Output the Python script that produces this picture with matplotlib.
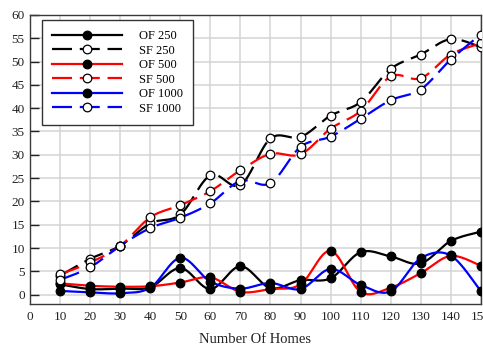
import numpy as np
import matplotlib
matplotlib.use("Agg")
import matplotlib.pyplot as plt
from matplotlib.lines import Line2D

homes = [10, 20, 30, 40, 50, 60, 70, 80, 90, 100, 110, 120, 130, 140, 150]

of_250 = [2.2, 1.2, 1.3, 1.6, 5.7, 1.2, 6.1, 1.4, 3.1, 3.5, 9.1, 8.2, 6.7, 11.5, 13.5]
sf_250 = [4.1, 7.7, 10.5, 15.3, 17.2, 25.6, 23.5, 33.5, 33.8, 38.4, 41.3, 48.4, 51.5, 54.8, 53.1]
of_500 = [2.4, 1.9, 1.7, 1.8, 2.6, 3.7, 0.6, 1.2, 2.2, 9.4, 0.6, 1.5, 4.6, 8.3, 6.2]
sf_500 = [4.4, 6.9, 10.5, 16.6, 19.2, 22.2, 26.7, 30.2, 30.1, 35.6, 39.4, 46.8, 46.4, 51.5, 53.9]
of_1000 = [0.8, 0.5, 0.3, 1.5, 7.9, 2.8, 1.3, 2.5, 1.2, 5.5, 2.1, 0.7, 7.8, 8.4, 0.8]
sf_1000 = [3.2, 5.9, 10.5, 14.3, 16.5, 19.6, 24.4, 23.9, 31.7, 33.9, 37.7, 41.7, 44.0, 50.4, 55.8]

x_ticks = list(range(0, 151, 10))
y_ticks = list(range(0, 61, 5))

plt.rcParams['font.family'] = ['Liberation Serif', 'DejaVu Serif']


def smooth(xs, ys, n=30):
    """Catmull-Rom style smoothing (like spreadsheet smoothed lines) for drawing."""
    xs = np.asarray(xs, float)
    ys = np.asarray(ys, float)
    px, py = [], []
    m = len(xs)
    for i in range(m - 1):
        x0, y0 = (xs[i - 1], ys[i - 1]) if i > 0 else (xs[i], ys[i])
        x1, y1 = xs[i], ys[i]
        x2, y2 = xs[i + 1], ys[i + 1]
        x3, y3 = (xs[i + 2], ys[i + 2]) if i + 2 < m else (xs[i + 1], ys[i + 1])
        c1x, c1y = x1 + (x2 - x0) / 6, y1 + (y2 - y0) / 6
        c2x, c2y = x2 - (x3 - x1) / 6, y2 - (y3 - y1) / 6
        t = np.linspace(0, 1, n, endpoint=(i == m - 2))
        b0 = (1 - t) ** 3
        b1 = 3 * (1 - t) ** 2 * t
        b2 = 3 * (1 - t) * t ** 2
        b3 = t ** 3
        px.append(b0 * x1 + b1 * c1x + b2 * c2x + b3 * x2)
        py.append(b0 * y1 + b1 * c1y + b2 * c2y + b3 * y2)
    return np.concatenate(px), np.concatenate(py)


fig = plt.figure(figsize=(4.83, 3.47), dpi=100)
ax = fig.add_axes([0.0627, 0.124, 0.9325, 0.833])

series = [
    ("OF 250", of_250, "black", "-", "black"),
    ("SF 250", sf_250, "black", "--", "white"),
    ("OF 500", of_500, "red", "-", "black"),
    ("SF 500", sf_500, "red", "--", "white"),
    ("OF 1000", of_1000, "blue", "-", "black"),
    ("SF 1000", sf_1000, "blue", "--", "white"),
]

lw = 1.6
dash = (9, 3.5)
handles = []
for label, vals, col, ls, mfc in series:
    sx, sy = smooth(homes, vals)
    kw = dict(color=col, lw=lw, solid_capstyle='butt')
    if ls == "--":
        kw['dashes'] = dash
    ax.plot(sx, sy, zorder=3, **kw)
    ax.plot(homes, vals, linestyle='none', marker='o', ms=6.2,
            mfc=mfc, mec='black', mew=0.9, zorder=4)
    h = Line2D([], [], color=col, lw=lw, marker='o', ms=6.2, mfc=mfc,
               mec='black', mew=0.9)
    if ls == "--":
        h.set_dashes(dash)
    handles.append((h, label))

ax.set_xlim(0, 150)
ax.set_ylim(-2, 60)
ax.set_xticks(x_ticks)
ax.set_yticks(y_ticks)
ax.grid(True, color='#d4d4d4', lw=1.1, zorder=0)
ax.set_axisbelow(True)
ax.tick_params(axis='x', length=0, pad=5, labelsize=9.5, colors='#222222')
ax.tick_params(axis='y', direction='in', length=6.5, width=1, pad=4,
               labelsize=9.5, colors='#222222')
for s in ax.spines.values():
    s.set_color('#3a3a3a')
    s.set_linewidth(1.0)
ax.set_xlabel("Number Of Homes", fontsize=10.5, labelpad=7, color='#222222')

leg = ax.legend([h for h, _ in handles], [l for _, l in handles],
                loc='upper left', bbox_to_anchor=(0.026, 0.982),
                borderaxespad=0, fontsize=9, handlelength=5.6,
                handletextpad=1.35, labelspacing=0.2, borderpad=0.8,
                fancybox=False, framealpha=1, edgecolor='#333333')
leg.get_frame().set_linewidth(1.0)

fig.savefig("out.png", dpi=100)
